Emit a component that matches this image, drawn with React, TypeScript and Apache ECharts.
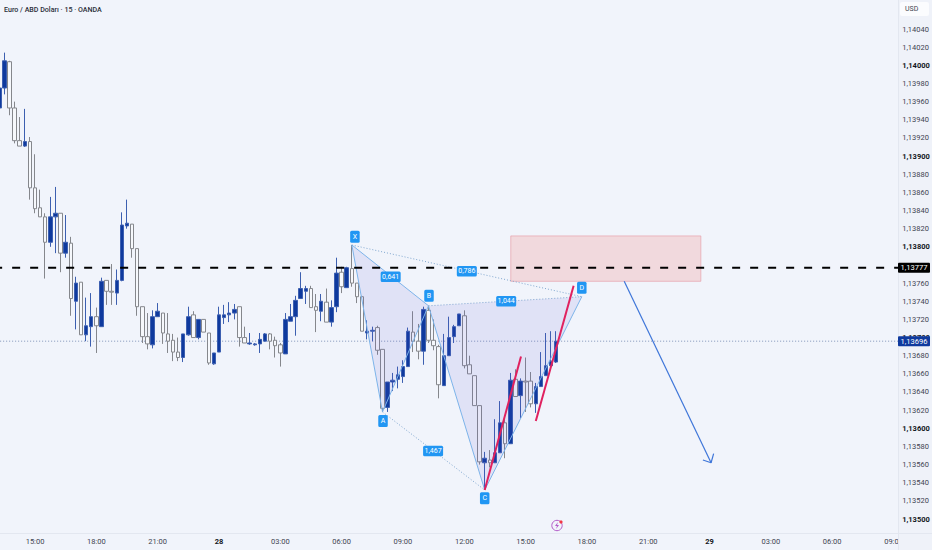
import React, { useEffect, useRef } from "react";
import * as echarts from "echarts";

const opens = [1.13953,1.13975,1.14004,1.13953,1.13917,1.13911,1.13916,1.13865,1.13843,1.13833,1.13805,1.13833,1.13837,1.13793,1.13804,1.13740,1.13761,1.13703,1.13712,1.13723,1.13712,1.13763,1.13751,1.13749,1.13763,1.13823,1.13825,1.13798,1.13734,1.13701,1.13692,1.13723,1.13727,1.13704,1.13697,1.13684,1.13678,1.13703,1.13725,1.13700,1.13720,1.13705,1.13671,1.13684,1.13722,1.13725,1.13727,1.13734,1.13700,1.13693,1.13692,1.13693,1.13696,1.13704,1.13697,1.13692,1.13682,1.13718,1.13723,1.13743,1.13751,1.13754,1.13734,1.13729,1.13739,1.13717,1.13734,1.13772,1.13755,1.13776,1.13760,1.13745,1.13705,1.13707,1.13711,1.13687,1.13623,1.13651,1.13654,1.13657,1.13668,1.13706,1.13696,1.13685,1.13730,1.13697,1.13690,1.13647,1.13680,1.13701,1.13713,1.13724,1.13670,1.13658,1.13625,1.13562,1.13565,1.13562,1.13573,1.13606,1.13583,1.13654,1.13636,1.13652,1.13652,1.13627,1.13646,1.13658,1.13669,1.13673];
const closes = [1.13975,1.14005,1.13953,1.13917,1.13911,1.13916,1.13865,1.13842,1.13833,1.13805,1.13833,1.13837,1.13793,1.13805,1.13743,1.13760,1.13703,1.13713,1.13723,1.13713,1.13762,1.13751,1.13750,1.13763,1.13824,1.13826,1.13798,1.13734,1.13701,1.13693,1.13723,1.13729,1.13705,1.13696,1.13684,1.13678,1.13704,1.13723,1.13700,1.13720,1.13706,1.13672,1.13683,1.13725,1.13725,1.13727,1.13731,1.13700,1.13694,1.13694,1.13693,1.13698,1.13704,1.13696,1.13691,1.13683,1.13720,1.13723,1.13741,1.13754,1.13754,1.13733,1.13730,1.13740,1.13717,1.13733,1.13771,1.13756,1.13777,1.13760,1.13745,1.13707,1.13707,1.13708,1.13686,1.13622,1.13651,1.13653,1.13659,1.13668,1.13707,1.13696,1.13685,1.13731,1.13697,1.13691,1.13648,1.13680,1.13700,1.13712,1.13726,1.13669,1.13660,1.13625,1.13563,1.13567,1.13562,1.13573,1.13606,1.13583,1.13653,1.13635,1.13652,1.13651,1.13627,1.13646,1.13657,1.13669,1.13674,1.13696];
const lows = [1.13953,1.13968,1.13945,1.13914,1.13911,1.13910,1.13852,1.13837,1.13833,1.13765,1.13800,1.13793,1.13772,1.13788,1.13724,1.13709,1.13703,1.13696,1.13690,1.13683,1.13712,1.13736,1.13736,1.13736,1.13762,1.13820,1.13788,1.13724,1.13694,1.13687,1.13688,1.13723,1.13693,1.13683,1.13674,1.13674,1.13673,1.13702,1.13700,1.13698,1.13706,1.13670,1.13670,1.13684,1.13715,1.13717,1.13720,1.13690,1.13694,1.13692,1.13691,1.13683,1.13696,1.13687,1.13678,1.13668,1.13682,1.13718,1.13702,1.13743,1.13737,1.13733,1.13706,1.13718,1.13717,1.13712,1.13728,1.13749,1.13755,1.13756,1.13738,1.13707,1.13698,1.13696,1.13681,1.13618,1.13618,1.13641,1.13644,1.13650,1.13668,1.13684,1.13676,1.13670,1.13694,1.13686,1.13633,1.13647,1.13680,1.13694,1.13713,1.13666,1.13660,1.13625,1.13560,1.13533,1.13557,1.13562,1.13573,1.13567,1.13583,1.13635,1.13611,1.13618,1.13623,1.13617,1.13646,1.13658,1.13669,1.13672];
const highs = [1.13998,1.14014,1.14005,1.13960,1.13943,1.13952,1.13921,1.13902,1.13863,1.13837,1.13855,1.13866,1.13837,1.13835,1.13811,1.13767,1.13761,1.13744,1.13749,1.13733,1.13766,1.13763,1.13781,1.13775,1.13838,1.13852,1.13825,1.13798,1.13734,1.13727,1.13730,1.13738,1.13727,1.13727,1.13704,1.13700,1.13704,1.13734,1.13729,1.13720,1.13720,1.13705,1.13683,1.13734,1.13736,1.13739,1.13737,1.13734,1.13712,1.13705,1.13694,1.13705,1.13705,1.13705,1.13701,1.13694,1.13727,1.13737,1.13746,1.13772,1.13757,1.13757,1.13748,1.13748,1.13754,1.13741,1.13788,1.13778,1.13778,1.13802,1.13760,1.13746,1.13719,1.13712,1.13713,1.13687,1.13651,1.13661,1.13668,1.13675,1.13711,1.13729,1.13715,1.13734,1.13735,1.13720,1.13692,1.13704,1.13723,1.13714,1.13726,1.13730,1.13680,1.13658,1.13625,1.13574,1.13576,1.13610,1.13630,1.13612,1.13661,1.13665,1.13655,1.13678,1.13662,1.13650,1.13684,1.13705,1.13707,1.13707];

const xTickLabels = ["15:00","18:00","21:00","28","03:00","06:00","09:00","12:00","15:00","18:00","21:00","29","03:00","06:00","09:00"];
const yTickValues = [1.135,1.1352,1.1354,1.1356,1.1358,1.136,1.1362,1.1364,1.1366,1.1368,1.137,1.1372,1.1374,1.1376,1.138,1.1382,1.1384,1.1386,1.1388,1.139,1.1392,1.1394,1.1396,1.1398,1.14,1.1402,1.1404];
const boldYTicks = [1.135,1.136,1.137,1.138,1.139,1.14];

const levelDashed = 1.13777;
const lastPrice = 1.13696;

// XABCD pattern, [bar index, price]
const pX = [69, 1.13802];
const pA = [75, 1.13618];
const pB = [84, 1.13735];
const pC = [95, 1.13532];
const pD = [114, 1.13745];
const patternTags = ["X", "A", "B", "C", "D", "0,641", "0,786", "1,044", "1,467"];
const patternTagPoints = [[69.6,1.13811],[75.1,1.13608],[84.1,1.13746],[95,1.13523],[114,1.13755],[76.6,1.13767],[91.5,1.13773],[99.2,1.1374],[84.9,1.13575]];
const zoneBox = [[100.1,1.13812],[137.3,1.13762]];
const pinkLineA = [[95,1.13532],[102.1,1.13679]];
const pinkLineB = [[105,1.13608],[112.4,1.13757]];
const arrowShaft = [[122.3,1.13762],[139.3,1.13562]];
const arrowHead = [[137.7,1.13565],[139.3,1.13562],[139.8,1.13572]];

const BAR_W = 5.11;
const BAR_COUNT = 177;
const BG = "#f1f4fb";
const FONT = "Roboto, sans-serif";
const fmt = (v: number) => v.toFixed(5).replace(".", ",");

const categories = Array.from({ length: BAR_COUNT }, (_, i) =>
  (i - 7) % 12 === 0 && i >= 7 ? xTickLabels[(i - 7) / 12] ?? "" : ""
);

const overlayLine = (points: number[][], style: any, z: number) => ({
  type: "line",
  xAxisIndex: 1,
  yAxisIndex: 0,
  data: points,
  symbol: "none",
  silent: true,
  z,
  lineStyle: style,
});

const polygonSeries = (rows: number[][], style: any, z: number) => ({
  type: "custom",
  xAxisIndex: 1,
  yAxisIndex: 0,
  silent: true,
  z,
  data: [0],
  renderItem: (_: any, api: any) => ({
    type: "polygon",
    shape: { points: rows.map((r) => api.coord(r)) },
    style,
  }),
});

export default function App() {
  const ref = useRef<HTMLDivElement>(null);
  useEffect(() => {
    const chart = echarts.init(ref.current!, undefined, { renderer: "svg" });
    const solid = { color: "#7db4ea", width: 1 };
    const dotted = { color: "#7fa6cf", width: 1, type: [1, 2] };
    const fill = { fill: "rgba(92,84,214,0.11)" };
    chart.setOption({
      animation: false,
      backgroundColor: BG,
      grid: { left: -3.3, top: 0, width: BAR_W * BAR_COUNT, height: 533, containLabel: false, outerBoundsMode: "none" },
      xAxis: [
        {
          type: "category",
          data: categories,
          z: 1,
          boundaryGap: true,
          axisLine: { show: false },
          axisTick: { show: false },
          splitLine: { show: false },
          axisLabel: {
            interval: (i: number, v: string) => v !== "",
            margin: 4,
            fontFamily: FONT,
            fontSize: 7.5,
            color: "#3f4451",
            hideOverlap: false,
            formatter: (v: string) => (v.includes(":") ? v : `{b|${v}}`),
            rich: { b: { fontFamily: FONT, fontSize: 7.5, fontWeight: "bold", color: "#131722" } },
          },
        },
        { type: "value", show: false, min: -0.5, max: BAR_COUNT - 0.5, position: "top" },
      ],
      yAxis: {
        type: "value",
        position: "right",
        z: 3,
        scale: true,
        min: 1.134846,
        max: 1.14072,
        axisLine: { show: false },
        axisTick: { show: false },
        splitLine: { show: false },
        axisLabel: {
          customValues: yTickValues,
          margin: 1,
          fontFamily: FONT,
          fontSize: 7.5,
          color: "#3f4451",
          formatter: (v: number) => {
            const bold = boldYTicks.some((b) => Math.abs(b - v) < 1e-7);
            return bold ? `{b|${fmt(v)}}` : fmt(v);
          },
          rich: { b: { fontFamily: FONT, fontSize: 7.5, fontWeight: "bold", color: "#131722" } },
        },
      },
      series: [
        overlayLine([[-1, lastPrice], [BAR_COUNT, lastPrice]], { color: "#7f93b8", width: 1, type: [1, 2] }, 1),
        {
          type: "candlestick",
          xAxisIndex: 0,
          yAxisIndex: 0,
          z: 2,
          barWidth: 4,
          silent: true,
          data: opens.map((o, i) => [o, closes[i], lows[i], highs[i]]),
          itemStyle: {
            color: "#0f3a9e",
            color0: "#f6f8fc",
            borderColor: "#3c5fb0",
            borderColor0: "#85878c",
            borderWidth: 1,
          },
        },
        polygonSeries([pX, pA, pB], fill, 3),
        polygonSeries([pB, pC, pD], fill, 3),
        overlayLine([pX, pA, pB, pC, pD], solid, 4),
        overlayLine([pX, pB], solid, 4),
        overlayLine([pB, pD], dotted, 4),
        overlayLine([pA, pC], dotted, 4),
        overlayLine([pX, pD], dotted, 4),
        polygonSeries(
          [zoneBox[0], [zoneBox[1][0], zoneBox[0][1]], zoneBox[1], [zoneBox[0][0], zoneBox[1][1]]],
          { fill: "rgba(242,80,70,0.16)", stroke: "rgba(230,150,160,0.6)", lineWidth: 1 },
          3
        ),
        overlayLine([[-1, levelDashed], [BAR_COUNT, levelDashed]], { color: "#000000", width: 2, type: [8, 10] }, 5),
        overlayLine(pinkLineA, { color: "#e0215f", width: 2 }, 5),
        overlayLine(pinkLineB, { color: "#e0215f", width: 2 }, 5),
        overlayLine(arrowShaft, { color: "#3f76d9", width: 1.2 }, 5),
        overlayLine(arrowHead, { color: "#3f76d9", width: 1.2 }, 5),
        {
          type: "custom",
          xAxisIndex: 1,
          yAxisIndex: 0,
          silent: true,
          z: 6,
          data: patternTagPoints,
          renderItem: (params: any, api: any) => {
            const [x, y] = api.coord([api.value(0), api.value(1)]);
            const text = patternTags[params.dataIndex];
            const w = text.length > 1 ? 20 : 9.5;
            const h = text.length > 1 ? 10.5 : 12;
            return {
              type: "group",
              children: [
                {
                  type: "rect",
                  shape: { x: x - w / 2, y: y - h / 2, width: w, height: h, r: 1.5 },
                  style: { fill: "#2196f3" },
                },
                {
                  type: "text",
                  style: {
                    x, y, text,
                    fill: "#ffffff",
                    fontFamily: FONT,
                    fontSize: 7,
                    align: "center",
                    verticalAlign: "middle",
                  },
                },
              ],
            };
          },
        },
        {
          type: "custom",
          xAxisIndex: 1,
          yAxisIndex: 0,
          silent: true,
          z: 7,
          data: [[0, levelDashed], [0, lastPrice]],
          renderItem: (params: any, api: any) => {
            const price = api.value(1);
            const [, y] = api.coord([0, price]);
            return {
              type: "group",
              children: [
                {
                  type: "rect",
                  shape: { x: 898, y: y - 5, width: 32, height: 10, r: 1 },
                  style: { fill: params.dataIndex === 0 ? "#000000" : "#0f3a9e" },
                },
                {
                  type: "text",
                  style: {
                    x: 914, y, text: fmt(price),
                    fill: "#ffffff",
                    fontFamily: FONT,
                    fontSize: 7.5,
                    align: "center",
                    verticalAlign: "middle",
                  },
                },
              ],
            };
          },
        },
      ],
      graphic: {
        elements: [
          { type: "rect", z: 2, silent: true, shape: { x: 898, y: 0, width: 34, height: 550 }, style: { fill: "#eff2f9" } },
          { type: "line", z: 2, silent: true, shape: { x1: 898.5, y1: 0, x2: 898.5, y2: 550 }, style: { stroke: "#e3e7f0", lineWidth: 1 } },
          { type: "line", z: 2, silent: true, shape: { x1: 0, y1: 533.5, x2: 932, y2: 533.5 }, style: { stroke: "#e3e7f0", lineWidth: 1 } },
          { type: "rect", z: 4, silent: true, shape: { x: 900, y: 2, width: 29, height: 14, r: 2 }, style: { fill: "#fbfcfe" } },
          { type: "text", z: 5, silent: true, style: { x: 905, y: 9, text: "USD", fill: "#3f4451", fontFamily: FONT, fontSize: 7, verticalAlign: "middle" } },
          { type: "text", z: 5, silent: true, style: { x: 4, y: 9.5, text: "Euro / ABD Doları · 15 · OANDA", fill: "#2a2e39", fontFamily: FONT, fontSize: 7.1, fontWeight: 500, verticalAlign: "middle" } },
          { type: "circle", z: 5, silent: true, shape: { cx: 557, cy: 525.5, r: 5.2 }, style: { fill: "none", stroke: "#b35cc9", lineWidth: 1 } },
          { type: "polygon", z: 5, silent: true, shape: { points: [[558, 522], [555, 526], [557, 526], [556, 529], [559, 525], [557, 525]] }, style: { fill: "#b35cc9" } },
          { type: "circle", z: 6, silent: true, shape: { cx: 561, cy: 522, r: 1.6 }, style: { fill: "#f23645" } },
        ],
      },
    });
    return () => chart.dispose();
  }, []);
  return <div ref={ref} style={{ position: "absolute", left: 0, top: 0, width: 932, height: 550 }} />;
}
